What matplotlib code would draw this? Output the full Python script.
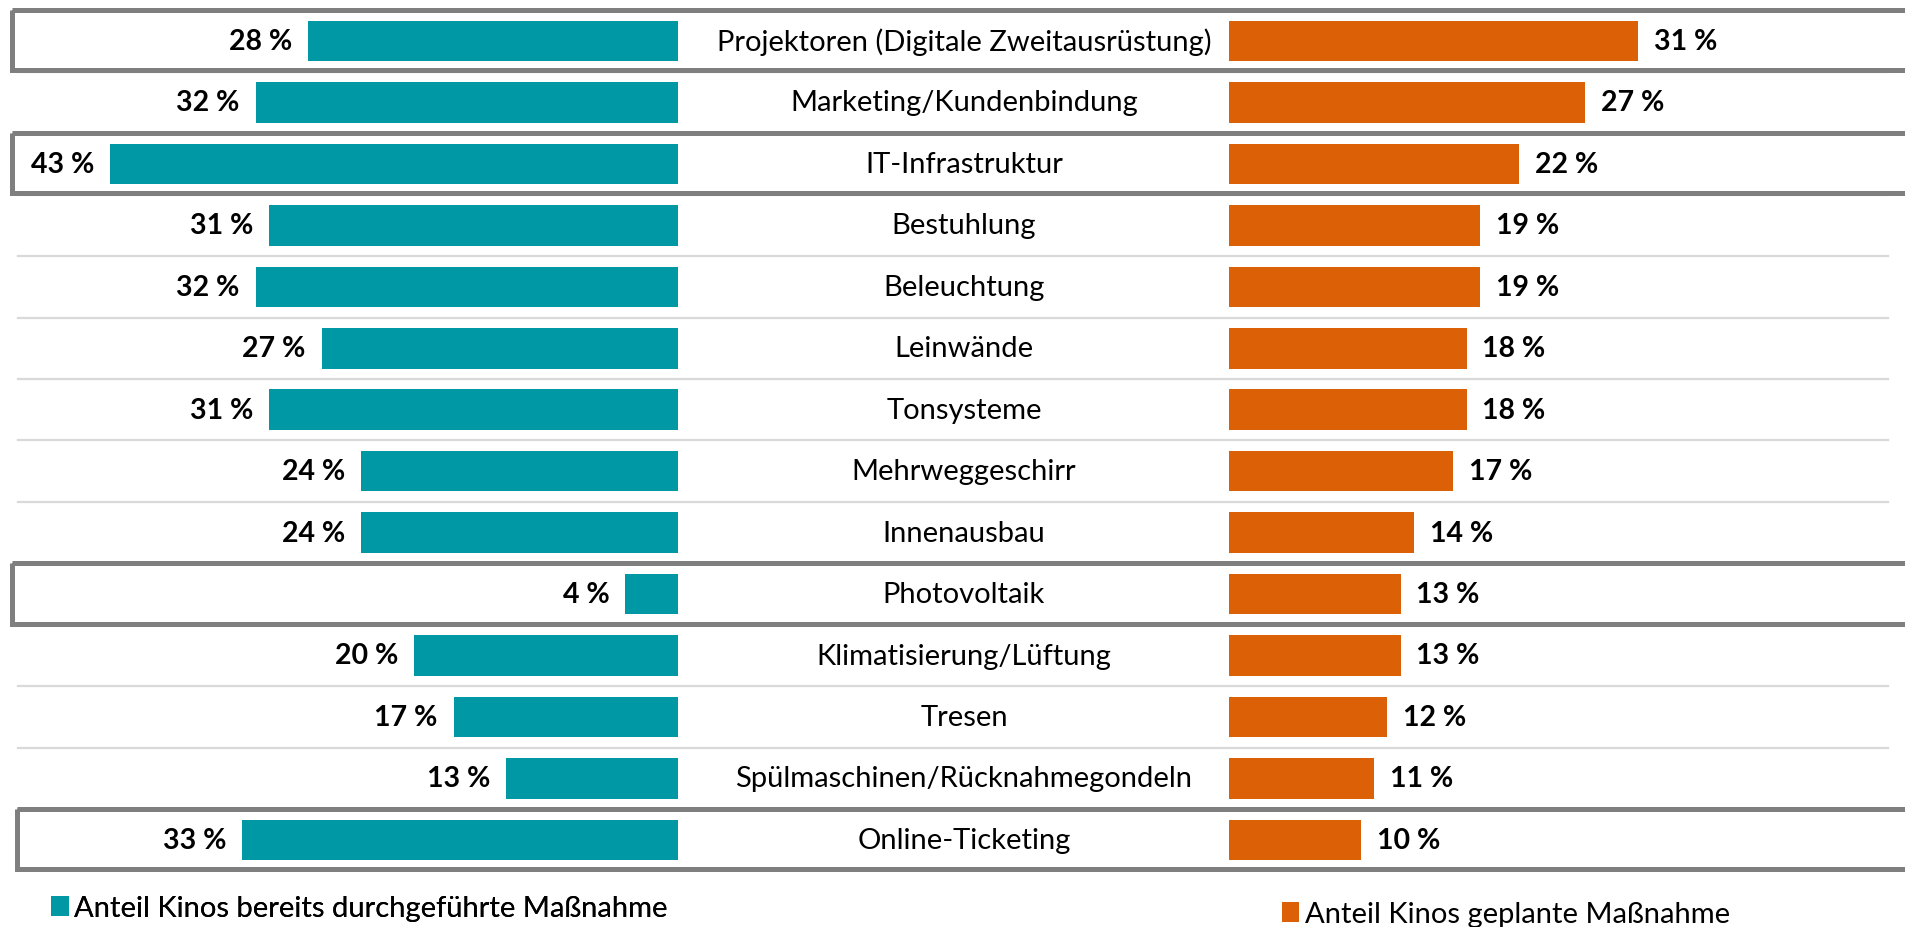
import matplotlib
matplotlib.use("Agg")
import matplotlib.pyplot as plt
from matplotlib.patches import Rectangle

plt.rcParams['font.family'] = ['Lato', 'DejaVu Sans']

categories = [
    "Projektoren (Digitale Zweitausrüstung)",
    "Marketing/Kundenbindung",
    "IT-Infrastruktur",
    "Bestuhlung",
    "Beleuchtung",
    "Leinwände",
    "Tonsysteme",
    "Mehrweggeschirr",
    "Innenausbau",
    "Photovoltaik",
    "Klimatisierung/Lüftung",
    "Tresen",
    "Spülmaschinen/Rücknahmegondeln",
    "Online-Ticketing",
]
done = [28, 32, 43, 31, 32, 27, 31, 24, 24, 4, 20, 17, 13, 33]
planned = [31, 27, 22, 19, 19, 18, 18, 17, 14, 13, 13, 12, 11, 10]
highlighted = [0, 2, 9, 13]
legend_labels = ["Anteil Kinos bereits durchgeführte Maßnahme",
                 "Anteil Kinos geplante Maßnahme"]

TEAL = "#0098A5"
ORANGE = "#DC6006"
BOX = "#7F7F7F"
SEP = "#D9D9D9"

W, H = 1906, 928
fig = plt.figure(figsize=(W / 100, H / 100), dpi=100)

px_per_pct = 13.2
row0 = 42.0
row_step = 61.45
y_top = -row0 / row_step
y_bot = (H - row0) / row_step
left_end = 678
right_start = 1229

bg = fig.add_axes([0, 0, 1, 1])
bg.set_xlim(0, W)
bg.set_ylim(y_bot, y_top)
bg.axis("off")

axl = fig.add_axes([0, 0, left_end / W, 1])
axl.set_xlim(left_end / px_per_pct, 0)
axl.set_ylim(y_bot, y_top)
axl.axis("off")

axr = fig.add_axes([right_start / W, 0, (W - right_start) / W, 1])
axr.set_xlim(0, (W - right_start) / px_per_pct)
axr.set_ylim(y_bot, y_top)
axr.axis("off")

n = len(categories)
ys = list(range(n))
fs = 21
fs_val = 20.5

# separators
for i in range(n - 1):
    bg.plot([18, 1888], [i + 0.5, i + 0.5], color=SEP, lw=1.6, zorder=1)

# highlight boxes
for i in highlighted:
    x0 = 17 if i == n - 1 else 12
    bg.add_patch(Rectangle((x0, i - 0.5), W + 40 - x0, 0.98, fill=False,
                           ec=BOX, lw=3.6, zorder=3, clip_on=False))

# category labels
for i, c in enumerate(categories):
    bg.text(964, i, c, ha="center", va="center", fontsize=fs, color="#000000")

bl = axl.barh(ys, done, height=0.66, color=TEAL, edgecolor="none",
              label=legend_labels[0])
br = axr.barh(ys, planned, height=0.66, color=ORANGE, edgecolor="none",
              label=legend_labels[1])

pad = 1.2
for i, v in enumerate(done):
    axl.text(v + pad, i, f"{v} %", ha="right", va="center", fontsize=fs_val,
             fontweight="bold", color="#000000")
for i, v in enumerate(planned):
    axr.text(v + pad, i, f"{v} %", ha="left", va="center", fontsize=fs_val,
             fontweight="bold", color="#000000")

leg_kw = dict(frameon=False, fontsize=fs, handlelength=0.6, handleheight=0.7,
              handletextpad=0.2, borderpad=0, borderaxespad=0)
leg1 = fig.legend(handles=[bl], labels=[legend_labels[0]], loc="center left",
                  bbox_to_anchor=(51 / W, 1 - 909 / H), **leg_kw)
fig.add_artist(leg1)
fig.legend(handles=[br], labels=[legend_labels[1]], loc="center left",
           bbox_to_anchor=(1282 / W, 1 - 915 / H), **leg_kw)

fig.savefig("out.png", dpi=100)
